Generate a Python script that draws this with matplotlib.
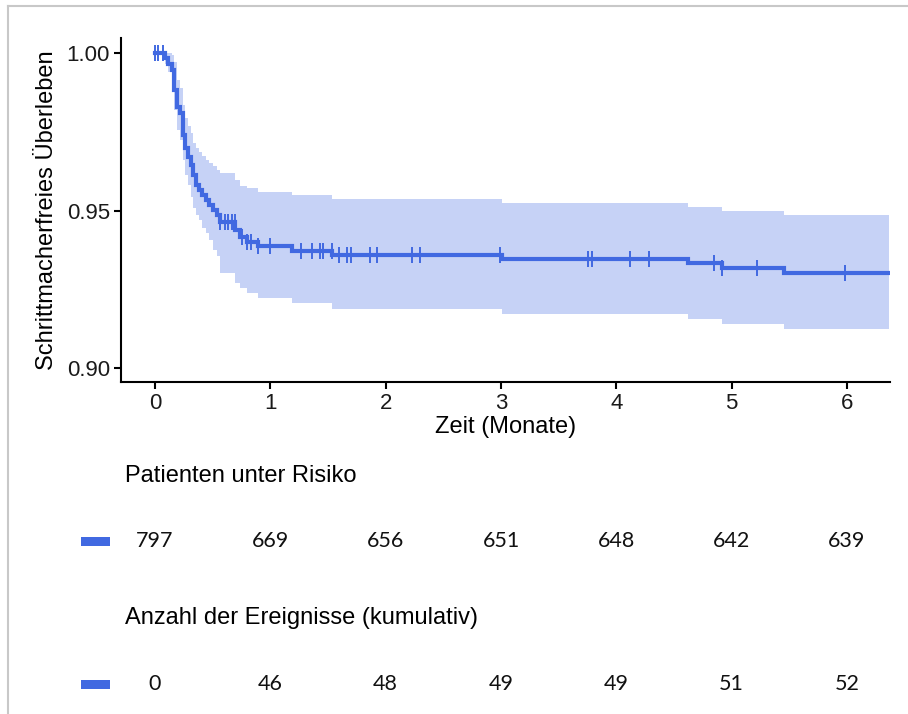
import numpy as np
import matplotlib
matplotlib.use("Agg")
import matplotlib.pyplot as plt
from matplotlib.lines import Line2D
from matplotlib.patches import Rectangle
from matplotlib.transforms import blended_transform_factory

# Kaplan-Meier steps (time in months, survival after step, 95% CI)
step_times = [0.0, 0.087, 0.113, 0.147, 0.165, 0.191, 0.217, 0.243, 0.260, 0.286,
              0.312, 0.330, 0.356, 0.382, 0.408, 0.442, 0.468, 0.503, 0.538, 0.564,
              0.694, 0.737, 0.798, 0.893, 1.188, 1.535, 3.009, 4.622, 4.916, 5.454]
survival = [1.0, 0.9984, 0.9965, 0.9946, 0.9883, 0.9829, 0.9810, 0.9740, 0.9698, 0.9670,
            0.9644, 0.9613, 0.9581, 0.9565, 0.9549, 0.9533, 0.9517, 0.9502, 0.9486, 0.9463,
            0.9438, 0.9416, 0.9400, 0.9387, 0.9372, 0.9359, 0.9346, 0.9332, 0.9317, 0.9303]
upper = [1.0, 1.0, 1.0, 0.9994, 0.9971, 0.9914, 0.9889, 0.9835, 0.9794, 0.9768,
         0.9746, 0.9714, 0.9698, 0.9686, 0.9673, 0.9660, 0.9651, 0.9641, 0.9629, 0.9619,
         0.9597, 0.9578, 0.9571, 0.9560, 0.9549, 0.9536, 0.9523, 0.9510, 0.9498, 0.9486]
lower = [1.0, 0.9965, 0.9940, 0.9908, 0.9819, 0.9756, 0.9724, 0.9660, 0.9613, 0.9581,
         0.9543, 0.9508, 0.9486, 0.9470, 0.9444, 0.9429, 0.9406, 0.9375, 0.9356, 0.9302,
         0.9270, 0.9254, 0.9238, 0.9222, 0.9206, 0.9187, 0.9170, 0.9155, 0.9139, 0.9123]
end_time = 6.36

censor_times = [0.0, 0.03, 0.07, 0.564, 0.607, 0.636, 0.668, 0.69, 0.755, 0.798, 0.833,
                0.893, 0.997, 1.264, 1.365, 1.431, 1.46, 1.532, 1.598, 1.662, 1.697,
                1.865, 1.928, 2.232, 2.298, 2.992, 3.758, 3.787, 4.12, 4.287, 4.85,
                4.92, 5.218, 5.985]

# risk table
table_times = [0, 1, 2, 3, 4, 5, 6]
at_risk = [797, 669, 656, 651, 648, 642, 639]
cum_events = [0, 46, 48, 49, 49, 51, 52]

blue = "#4169E1"
band = "#C6D2F6"
axis_font = "Liberation Sans"
num_font = "Lato"

fig = plt.figure(figsize=(9.08, 7.14), dpi=100)
ax = fig.add_axes([121 / 908, 1 - 382 / 714, (890 - 121) / 908, (382 - 38) / 714])

t = np.array(step_times + [end_time])
s = np.array(survival + [survival[-1]])
lo = np.array(lower + [lower[-1]])
hi = np.array(upper + [upper[-1]])

ax.fill_between(t, lo, hi, step="post", color=band, linewidth=0)
ax.step(t, s, where="post", color=blue, linewidth=3.0, solid_joinstyle="miter")

idx = np.searchsorted(step_times, censor_times, side="right") - 1
cens_y = np.array(survival)[idx]
ax.plot(censor_times, cens_y, linestyle="none", marker="|", markersize=12,
        markeredgewidth=1.4, color=blue)

ax.set_xlim(-0.295, 6.373)
ax.set_ylim(0.89556, 1.00476)
ax.set_xticks(range(0, 7))
ax.set_yticks([0.90, 0.95, 1.00])
ax.set_yticklabels(["0.90", "0.95", "1.00"])
for side in ["top", "right"]:
    ax.spines[side].set_visible(False)
for side in ["left", "bottom"]:
    ax.spines[side].set_linewidth(1.5)
ax.tick_params(axis="both", length=5, width=1.5, labelsize=16, pad=3, colors="black")
for lab in ax.get_xticklabels() + ax.get_yticklabels():
    lab.set_fontfamily(axis_font)
    lab.set_color("#1a1a1a")

ax.set_xlabel("Zeit (Monate)", fontsize=17, fontfamily=axis_font, labelpad=1)
ax.set_ylabel("Schrittmacherfreies Überleben", fontsize=17, fontfamily=axis_font, labelpad=6)

# risk table below the plot
trans = blended_transform_factory(ax.transData, fig.transFigure)
fig.text(125 / 908, 1 - 476 / 714, "Patienten unter Risiko", fontsize=17,
         fontfamily=axis_font, va="center", ha="left")
fig.text(125 / 908, 1 - 618 / 714, "Anzahl der Ereignisse (kumulativ)", fontsize=17,
         fontfamily=axis_font, va="center", ha="left")
for row_y, values in [(541, at_risk), (684, cum_events)]:
    for tt, v in zip(table_times, values):
        fig.text(tt, 1 - row_y / 714, str(v), transform=trans, fontsize=15.5,
                 fontfamily=num_font, ha="center", va="center", color="#111111")
    fig.add_artist(Rectangle((81 / 908, 1 - (row_y + 5) / 714), 29 / 908, 9 / 714,
                             transform=fig.transFigure, color=blue, linewidth=0))

# light grey frame at top and left
fig.add_artist(Line2D([8 / 908, 1], [1 - 6 / 714, 1 - 6 / 714], transform=fig.transFigure,
                      color="#c8c8c8", linewidth=1.5))
fig.add_artist(Line2D([8 / 908, 8 / 908], [0, 1 - 6 / 714], transform=fig.transFigure,
                      color="#c8c8c8", linewidth=1.5))

fig.savefig("out.png", dpi=100)
